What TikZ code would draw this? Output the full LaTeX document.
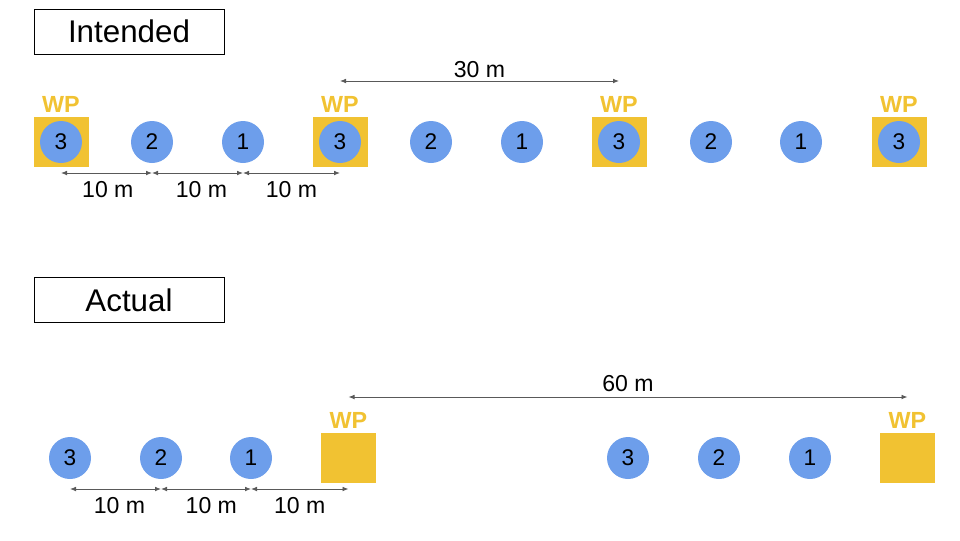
\documentclass[tikz,border=0pt]{standalone}
\usepackage{fontspec}
\setmainfont{Liberation Sans}
\usetikzlibrary{arrows.meta}
\definecolor{stopblue}{HTML}{6D9EEB}
\definecolor{wpgold}{HTML}{F1C232}
\definecolor{dimgray}{HTML}{595959}
\tikzset{
  stop/.style = {circle,fill=stopblue,minimum size=31.5pt,inner sep=0pt,font=\fontsize{17}{20}\selectfont},
  wpbox/.style = {rectangle,fill=wpgold,minimum width=41.25pt,minimum height=37.5pt,inner sep=0pt},
  wplab/.style = {text=wpgold,font=\fontsize{17.5}{21}\selectfont\bfseries},
  titlebox/.style = {draw,line width=0.75pt,minimum width=142.5pt,minimum height=33.75pt,inner sep=0pt,font=\fontsize{23.5}{28}\selectfont},
  dim/.style = {{Latex[length=4.5pt,width=3.5pt]}-{Latex[length=4.5pt,width=3.5pt]},draw=dimgray,line width=0.6pt},
  dimlab/.style = {font=\fontsize{17.3}{20}\selectfont,text=black}
}
\begin{document}
\begin{tikzpicture}[x=0.75pt,y=-0.75pt]
\useasboundingbox (0,0) rectangle (960,540);
% intended
\node[titlebox] (intended) at (129,31.5) {Intended};
\node[wpbox] (iw1) at (61,141.5) {};
\node[wpbox] (iw2) at (340,141.5) {};
\node[wpbox] (iw3) at (619,141.5) {};
\node[wpbox] (iw4) at (899,141.5) {};
\node[wplab] (iwl1) at (61,104) {WP};
\node[wplab] (iwl2) at (340,104) {WP};
\node[wplab] (iwl3) at (619,104) {WP};
\node[wplab] (iwl4) at (899,104) {WP};
\node[stop] (i3a) at (61,142) {3};
\node[stop] (i2a) at (152,142) {2};
\node[stop] (i1a) at (243,142) {1};
\node[stop] (i3b) at (340,142) {3};
\node[stop] (i2b) at (431,142) {2};
\node[stop] (i1b) at (522,142) {1};
\node[stop] (i3c) at (619,142) {3};
\node[stop] (i2c) at (711,142) {2};
\node[stop] (i1c) at (801,142) {1};
\node[stop] (i3d) at (899,142) {3};
\coordinate (irow) at (0,173);
\coordinate (itop) at (0,81);
\draw[dim] (i3a |- irow) -- (i2a |- irow) node[dimlab,midway,below=3pt,xshift=1pt]{10 m};
\draw[dim] (i2a |- irow) -- (i1a |- irow) node[dimlab,midway,below=3pt,xshift=3pt]{10 m};
\draw[dim] (i1a |- irow) -- (i3b |- irow) node[dimlab,midway,below=3pt]{10 m};
\draw[dim] (i3b |- itop) -- (i3c |- itop) node[dimlab,midway,above=-1.5pt]{30 m};
% actual
\node[titlebox] (actual) at (129,300) {Actual};
\node[wpbox] (aw1) at (348.5,457.5) {};
\node[wpbox] (aw2) at (907.5,457.5) {};
\node[wplab] (awl1) at (348.5,420) {WP};
\node[wplab] (awl2) at (907.5,420) {WP};
\node[stop] (a3a) at (70,458) {3};
\node[stop] (a2a) at (161,458) {2};
\node[stop] (a1a) at (251,458) {1};
\node[stop] (a3b) at (628,458) {3};
\node[stop] (a2b) at (719,458) {2};
\node[stop] (a1b) at (810,458) {1};
\coordinate (arow) at (0,489);
\coordinate (atop) at (0,397);
\draw[dim] (a3a |- arow) -- (a2a |- arow) node[dimlab,midway,below=3pt,xshift=3pt]{10 m};
\draw[dim] (a2a |- arow) -- (a1a |- arow) node[dimlab,midway,below=3pt,xshift=4pt]{10 m};
\draw[dim] (a1a |- arow) -- (aw1 |- arow) node[dimlab,midway,below=3pt]{10 m};
\draw[dim] (aw1 |- atop) -- (aw2 |- atop) node[dimlab,midway,above=0pt]{60 m};
\end{tikzpicture}
\end{document}
